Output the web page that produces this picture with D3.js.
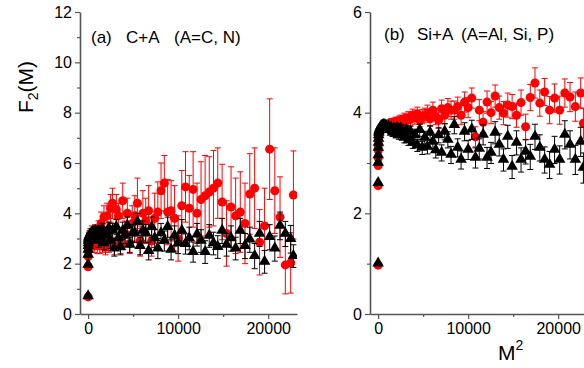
<!DOCTYPE html>
<html><head><meta charset="utf-8">
<script src="https://cdn.jsdelivr.net/npm/d3@7"></script>
<style>
body{margin:0;background:#fff}
svg{display:block}
text{font-family:Arial,"Liberation Sans",sans-serif}
</style>
</head><body>
<svg id="chart" width="584" height="368"></svg>
<script>
// M^2 values (x)
const M2 = [1,4,9,16,25,36,49,64,81,100,144,196,256,324,400,484,576,676,784,900,
1024,1156,1296,1444,1600,1764,1936,2116,2304,2500,2704,2916,3136,3364,3600,3844,4096,4356,4624,4900,
5184,5476,5776,6084,6400,6724,7056,7396,7744,8100,8464,8836,9216,9604,10000,10404,10816,11236,11664,12100,
12544,12996,13456,13924,14400,14884,15376,15876,16384,16900,17424,17956,18496,19044,19600,20164,20736,21316,21904,22500,22801];

// Panel (a) C+A
const aRed = [0.68,1.88,2.28,2.5,2.65,2.75,2.85,2.9,2.95,3.0,
3.05,2.9,3.1,3.0,3.2,2.85,3.1,2.7,3.2,3.05,
2.75,3.3,2.7,3.6,2.8,3.85,2.65,3.9,2.8,4.2,
4.4,2.7,4.15,3.9,2.75,4.5,3.2,4.0,2.8,3.6,
3.9,4.4,2.9,4.0,3.7,4.1,2.9,3.8,4.05,4.9,
5.2,4.05,4.1,3.8,3.0,4.3,5.05,4.2,4.95,4.0,
4.55,4.7,4.85,5.0,5.2,4.45,3.2,4.25,3.9,4.05,
3.6,4.77,5.0,2.85,3.5,6.55,4.9,3.85,1.95,2.03,4.73];
const aRedErr = [0.05,0.08,0.1,0.12,0.15,0.15,0.18,0.2,0.2,0.22,
0.25,0.25,0.3,0.25,0.3,0.25,0.3,0.25,0.35,0.3,
0.35,0.4,0.3,0.45,0.35,0.45,0.3,0.5,0.35,0.55,
0.6,0.35,0.6,0.5,0.35,0.7,0.5,0.6,0.4,0.7,
0.8,1.0,0.6,0.9,0.9,1.0,0.6,1.0,1.2,1.1,
1.1,1.3,1.2,1.3,0.9,1.4,1.4,1.3,1.5,1.2,
1.5,1.6,1.4,1.5,1.4,1.5,1.3,1.6,1.5,1.6,
1.6,1.6,1.6,1.3,1.5,2.0,1.7,1.6,1.15,1.2,1.75];
const aBlack = [0.7,1.95,2.35,2.55,2.7,2.8,2.9,2.95,3.0,3.05,
3.1,3.0,3.15,3.05,3.2,3.1,3.25,3.15,3.3,3.2,
3.25,2.9,3.3,3.0,3.35,2.8,3.2,3.1,3.4,2.9,
3.3,2.6,3.45,3.0,2.65,3.3,3.1,3.5,2.75,3.2,
3.2,3.65,2.7,3.3,3.2,2.5,3.45,3.0,2.6,3.2,
2.9,3.45,2.55,3.1,2.8,3.3,2.78,3.0,2.46,3.15,
2.9,2.46,3.1,2.8,2.66,3.3,2.75,3.0,2.6,3.3,
2.7,2.95,2.3,3.18,2.07,3.05,2.6,3.5,3.18,2.97,2.3];
const aBlackErr = [0.03,0.05,0.08,0.1,0.1,0.1,0.12,0.12,0.15,0.15,
0.15,0.15,0.18,0.15,0.2,0.18,0.2,0.18,0.2,0.2,
0.2,0.25,0.2,0.25,0.25,0.25,0.25,0.3,0.25,0.3,
0.3,0.3,0.3,0.3,0.3,0.35,0.3,0.35,0.3,0.35,
0.35,0.35,0.35,0.4,0.35,0.35,0.4,0.35,0.4,0.4,
0.4,0.4,0.4,0.4,0.4,0.45,0.4,0.45,0.4,0.45,
0.45,0.45,0.45,0.45,0.45,0.5,0.45,0.5,0.45,0.5,
0.5,0.5,0.5,0.5,0.45,0.5,0.5,0.55,0.5,0.55,0.45];

// Panel (b) Si+A
const bRed = [0.97,2.55,2.95,3.1,3.25,3.35,3.45,3.5,3.55,3.6,
3.62,3.65,3.68,3.7,3.72,3.73,3.74,3.75,3.75,3.76,
3.76,3.77,3.78,3.8,3.79,3.8,3.82,3.8,3.83,3.85,
3.82,3.88,3.85,3.9,3.87,3.95,3.9,3.98,3.85,3.92,
3.95,4.0,3.88,4.05,3.92,3.85,4.08,3.95,4.1,4.05,
4.05,4.12,3.95,4.21,4.1,4.29,3.52,4.05,3.81,4.21,
4.0,4.33,4.1,3.99,4.15,4.12,3.95,4.2,3.72,4.3,
4.59,4.19,4.41,4.05,4.29,4.05,4.39,4.31,4.12,4.39,3.79];
const bRedErr = [0.02,0.03,0.03,0.03,0.03,0.03,0.03,0.04,0.04,0.04,
0.05,0.05,0.05,0.05,0.05,0.05,0.05,0.05,0.05,0.05,
0.07,0.07,0.08,0.08,0.08,0.09,0.09,0.1,0.1,0.1,
0.1,0.11,0.11,0.12,0.12,0.12,0.13,0.13,0.13,0.14,
0.14,0.15,0.15,0.16,0.16,0.16,0.17,0.17,0.18,0.18,
0.18,0.19,0.19,0.2,0.2,0.2,0.2,0.21,0.21,0.22,
0.22,0.22,0.23,0.23,0.24,0.24,0.24,0.25,0.25,0.26,
0.3,0.26,0.27,0.27,0.28,0.28,0.28,0.29,0.29,0.3,0.3];
const bBlack = [1.0,2.6,3.0,3.15,3.3,3.4,3.48,3.55,3.6,3.63,
3.65,3.68,3.7,3.72,3.73,3.74,3.75,3.75,3.74,3.73,
3.7,3.72,3.65,3.7,3.6,3.68,3.58,3.7,3.55,3.68,
3.6,3.5,3.65,3.45,3.62,3.4,3.55,3.35,3.65,3.3,
3.5,3.32,3.6,3.42,3.25,3.55,3.2,3.62,3.46,3.16,
3.75,3.3,3.06,3.62,3.26,3.66,3.1,3.28,3.56,3.1,
3.2,3.6,3.36,3.06,3.52,2.92,3.4,3.06,3.22,3.12,
3.52,3.3,3.06,2.96,3.26,3.06,3.56,3.36,3.06,3.42,2.9];
const bBlackErr = [0.02,0.02,0.02,0.02,0.02,0.02,0.02,0.02,0.02,0.02,
0.03,0.03,0.03,0.03,0.03,0.03,0.03,0.03,0.03,0.03,
0.05,0.05,0.06,0.06,0.07,0.07,0.08,0.08,0.08,0.09,
0.09,0.1,0.1,0.1,0.11,0.11,0.12,0.12,0.12,0.13,
0.13,0.14,0.14,0.14,0.15,0.15,0.16,0.16,0.16,0.17,
0.17,0.18,0.18,0.18,0.19,0.19,0.2,0.2,0.2,0.21,
0.21,0.22,0.22,0.22,0.23,0.23,0.24,0.24,0.24,0.25,
0.25,0.26,0.26,0.27,0.27,0.28,0.28,0.28,0.29,0.29,0.3];

// Tick values and labels
const xMajor = [0, 10000, 20000];
const xMinor = [5000, 15000];
const aYMajor = [0,2,4,6,8,10,12];
const aYMinor = [1,3,5,7,9,11];
const bYMajor = [0,2,4,6];
const bYMinor = [1,3,5];
const xDomain = [-900, 23200];

const svg = d3.select("#chart");
const axisColor = "#555";

function panel(cfg) {
  const x = d3.scaleLinear().domain(xDomain).range(cfg.xRange);
  const y = d3.scaleLinear().domain(cfg.yDomain).range([314, 12]);
  const g = svg.append("g");

  const clipId = "clip" + cfg.id;
  svg.append("clipPath").attr("id", clipId).append("rect")
    .attr("x", cfg.xRange[0]).attr("y", 0)
    .attr("width", cfg.xRange[1] - cfg.xRange[0]).attr("height", 314);
  const plot = g.append("g").attr("clip-path", `url(#${clipId})`);

  function series(vals, errs, color, shape) {
    const data = M2.map((m, i) => ({x: m, v: vals[i], e: errs[i]}));
    const eb = plot.append("g").attr("stroke", color).attr("stroke-width", 1).attr("fill", "none");
    data.forEach(d => {
      const px = x(d.x), top = y(d.v + d.e), bot = y(d.v - d.e);
      eb.append("line").attr("x1", px).attr("x2", px).attr("y1", top).attr("y2", bot);
      eb.append("line").attr("x1", px - 3).attr("x2", px + 3).attr("y1", top).attr("y2", top);
      eb.append("line").attr("x1", px - 3).attr("x2", px + 3).attr("y1", bot).attr("y2", bot);
    });
    const sym = d3.symbol().type(shape === "circle" ? d3.symbolCircle : d3.symbolTriangle)
      .size(shape === "circle" ? 64 : 58);
    plot.append("g").selectAll("path").data(data).join("path")
      .attr("d", sym)
      .attr("transform", d => `translate(${x(d.x)},${y(d.v) + (shape === "circle" ? 0 : -0.5)})`)
      .attr("fill", color);
  }
  series(cfg.red, cfg.redErr, "#ff0000", "circle");
  series(cfg.black, cfg.blackErr, "#000000", "triangle");

  // y axis
  const yAx = g.append("g").attr("transform", `translate(${cfg.xRange[0]},0)`)
    .call(d3.axisLeft(y).tickValues(cfg.yMajor).tickSize(5).tickSizeOuter(0).tickPadding(3).tickFormat(d3.format("d")));
  const yMin = g.append("g").attr("transform", `translate(${cfg.xRange[0]},0)`)
    .call(d3.axisLeft(y).tickValues(cfg.yMinor).tickSize(3).tickSizeOuter(0).tickFormat(""));
  yMin.select(".domain").remove();
  // x axis
  const xAx = g.append("g").attr("transform", "translate(0,314)")
    .call(d3.axisBottom(x).tickValues(xMajor).tickSize(5).tickSizeOuter(0).tickPadding(4).tickFormat(d3.format("d")));
  const xMin = g.append("g").attr("transform", "translate(0,314)")
    .call(d3.axisBottom(x).tickValues(xMinor).tickSize(3).tickSizeOuter(0).tickFormat(""));
  xMin.select(".domain").remove();

  [yAx, yMin, xAx, xMin].forEach(a => {
    a.selectAll(".domain").attr("stroke", axisColor).attr("stroke-width", 1.6);
    a.selectAll(".tick line").attr("stroke", axisColor).attr("stroke-width", 1.2);
    a.selectAll("text").attr("font-size", 16).attr("font-family", "Arial, 'Liberation Sans', sans-serif").attr("fill", "#000");
  });

  // annotation
  cfg.labels.forEach(l => {
    g.append("text").attr("x", l.x).attr("y", cfg.labelY).attr("font-size", 17).attr("fill", "#000").text(l.t);
  });
}

panel({id: "a", xRange: [80, 297], yDomain: [0, 12], yMajor: aYMajor, yMinor: aYMinor,
  red: aRed, redErr: aRedErr, black: aBlack, blackErr: aBlackErr,
  labelY: 43, labels: [{x: 91, t: "(a)"}, {x: 126, t: "C+A"}, {x: 174, t: "(A=C, N)"}]});
panel({id: "b", xRange: [370, 587], yDomain: [0, 6], yMajor: bYMajor, yMinor: bYMinor,
  red: bRed, redErr: bRedErr, black: bBlack, blackErr: bBlackErr,
  labelY: 40, labels: [{x: 384, t: "(b)"}, {x: 417, t: "Si+A"}, {x: 461, t: "(A=Al, Si, P)"}]});

// axis titles
const yt = svg.append("text").attr("transform", "translate(33,87) rotate(-90)")
  .attr("text-anchor", "middle").attr("font-size", 21).attr("fill", "#000");
yt.append("tspan").text("F");
yt.append("tspan").attr("font-size", 14).attr("dy", 5).text("2");
yt.append("tspan").attr("dy", -5).text("(M)");

const xt = svg.append("text").attr("x", 498).attr("y", 360).attr("font-size", 21).attr("fill", "#000");
xt.append("tspan").text("M");
xt.append("tspan").attr("font-size", 14).attr("dy", -10).text("2");
</script>
</body></html>
